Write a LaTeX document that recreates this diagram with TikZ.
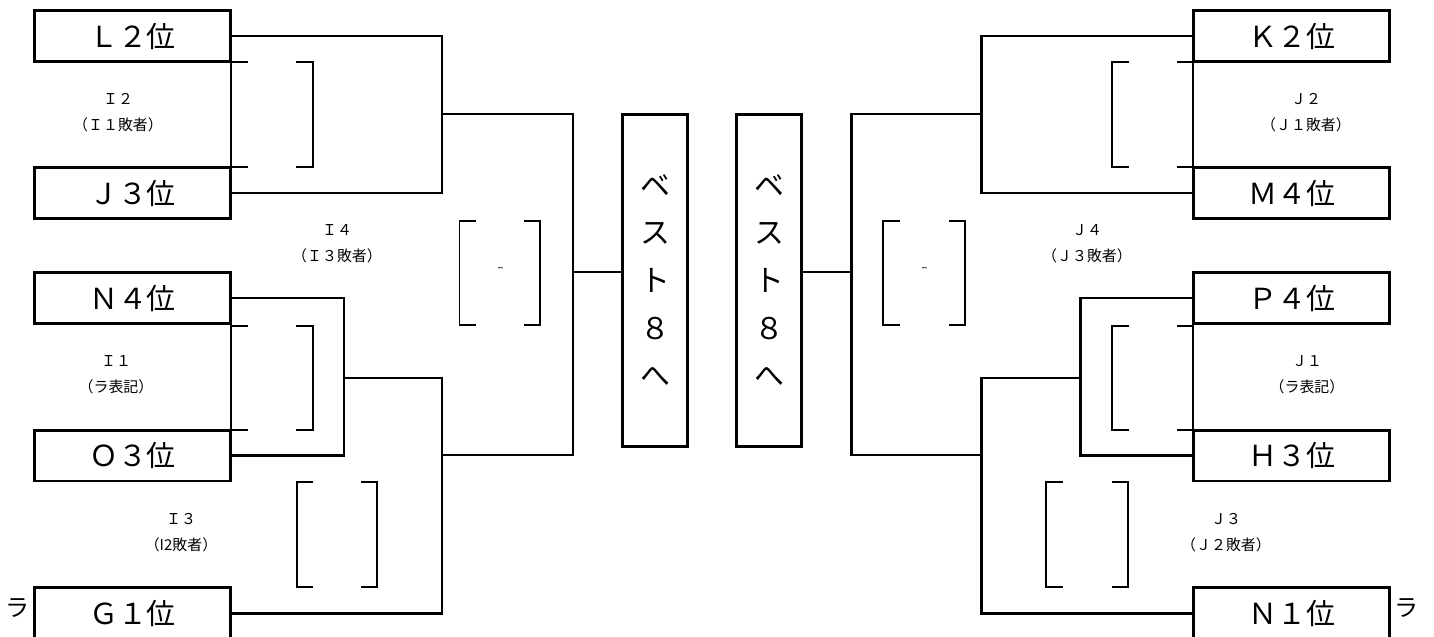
\documentclass[tikz,border=0pt]{standalone}
\usepackage{fontspec}
\setmainfont{Noto Sans CJK JP}
\usepackage{tikz}
\usetikzlibrary{positioning,calc}

\begin{document}
\begin{tikzpicture}[
    x=0.02cm, y=-0.02cm,
    team/.style={rectangle, draw, line width=1.7pt, minimum width=3.91cm, minimum height=1.02cm, inner sep=0pt, font=\fontsize{16.5}{18}\selectfont},
    best/.style={rectangle, draw, line width=1.7pt, minimum width=1.3cm, minimum height=6.64cm, inner sep=0pt, align=center, font=\fontsize{17}{27.1}\selectfont},
    link/.style={line width=1.7pt},
    brk/.style={line width=0.6pt},
    info/.style={align=center, inner sep=0pt, font=\fontsize{8.5}{14.8}\selectfont},
    score/.style={inner sep=0pt, text=black!60, font=\fontsize{11}{12}\selectfont},
    side/.style={inner sep=0pt, font=\fontsize{13.7}{15}\selectfont}
]
\useasboundingbox (0,0) rectangle (1434,636);

% Left side teams
\node[team] (l2) at (132.5,36) {Ｌ２位};
\node[team] (j3) at (132.5,193) {Ｊ３位};
\node[team] (n4) at (132.5,298) {Ｎ４位};
\node[team] (o3) at (132.5,455.5) {Ｏ３位};
\node[team] (g1) at (132.5,613) {Ｇ１位};

% Right side teams
\node[team] (k2) at (1291.5,36) {Ｋ２位};
\node[team] (m4) at (1291.5,193) {Ｍ４位};
\node[team] (p4) at (1291.5,298) {Ｐ４位};
\node[team] (h3) at (1291.5,455.5) {Ｈ３位};
\node[team] (n1) at (1291.5,613) {Ｎ１位};

% Best 8 boxes
\node[best] (bestl) at (655.2,280.6) {ベ\\ス\\ト\\８\\へ};
\node[best] (bestr) at (769.2,280.6) {ベ\\ス\\ト\\８\\へ};

% Junction points
\coordinate (i2) at (442,114);
\coordinate (i1) at (344,378);
\coordinate (i3) at (442,455);
\coordinate (i4) at (573,272);
\coordinate (jj2) at (981.5,114);
\coordinate (jj1) at (1080,378);
\coordinate (jj3) at (981.5,455);
\coordinate (jj4) at (851.3,272);

% Left bracket lines
\draw[link] (l2.east) -| (i2) |- (j3.east);
\draw[link] (n4.east) -| (i1) |- (o3.east);
\draw[link] (i1) -| (i3) |- (g1.east);
\draw[link] (i2) -| (i4) |- (i3);
\draw[link] (i4) -- (i4 -| bestl.west);

% Right bracket lines
\draw[link] (k2.west) -| (jj2) |- (m4.west);
\draw[link] (p4.west) -| (jj1) |- (h3.west);
\draw[link] (jj1) -| (jj3) |- (n1.west);
\draw[link] (jj2) -| (jj4) |- (jj3);
\draw[link] (jj4) -- (jj4 -| bestr.east);

% Score brackets (left)
\draw[brk] (248,62) -| (231,167) -- (248,167);
\draw[brk] (296,62) -| (313,167) -- (296,167);
\draw[brk] (248,326) -| (231,430) -- (248,430);
\draw[brk] (296,326) -| (313,430) -- (296,430);
\draw[brk] (313,482) -| (297,587) -- (313,587);
\draw[brk] (361,482) -| (377,587) -- (361,587);
\draw[brk] (476,221) -| (459.5,325) -- (476,325);
\draw[brk] (524,221) -| (540,325) -- (524,325);

% Score brackets (right)
\draw[brk] (1129,62) -| (1112,167) -- (1129,167);
\draw[brk] (1177,62) -| (1193,167) -- (1177,167);
\draw[brk] (1129,326) -| (1112,430) -- (1129,430);
\draw[brk] (1177,326) -| (1193,430) -- (1177,430);
\draw[brk] (1063,482) -| (1046,587) -- (1063,587);
\draw[brk] (1112,482) -| (1128,587) -- (1112,587);
\draw[brk] (900,221) -| (883,325) -- (900,325);
\draw[brk] (949,221) -| (965,325) -- (949,325);

\node[score] (sl) at (501,270) {-};
\node[score] (sr) at (925,270) {-};

% Match labels
\node[info] (mi2) at (118,113) {Ｉ２\\（Ｉ１敗者）};
\node[info] (mi4) at (337,244) {Ｉ４\\（Ｉ３敗者）};
\node[info] (mi1) at (116,375) {Ｉ１\\（ラ表記）};
\node[info] (mi3) at (181,533) {Ｉ３\\（I2敗者）};
\node[info] (mj2) at (1306,113) {Ｊ２\\（Ｊ１敗者）};
\node[info] (mj4) at (1087,244) {Ｊ４\\（Ｊ３敗者）};
\node[info] (mj1) at (1307,375) {Ｊ１\\（ラ表記）};
\node[info] (mj3) at (1226,533) {Ｊ３\\（Ｊ２敗者）};

\node[side] (ral) at (18,608) {ラ};
\node[side] (rar) at (1407,608) {ラ};

\end{tikzpicture}
\end{document}
